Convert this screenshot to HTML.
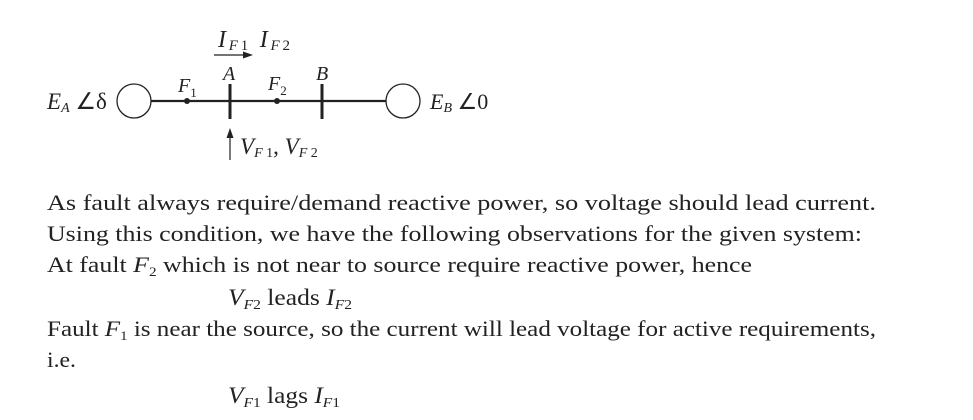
<!DOCTYPE html>
<html><head><meta charset="utf-8"><style>
html,body{margin:0;padding:0;background:#fff;}
svg{display:block;}
text{font-family:"Liberation Serif",serif;fill:#222;}
.i{font-style:italic;}
</style></head><body>
<svg width="973" height="420" viewBox="0 0 973 420" xmlns="http://www.w3.org/2000/svg">
<circle cx="134" cy="101" r="17" fill="none" stroke="#222" stroke-width="1.3"/>
<circle cx="403" cy="101" r="17" fill="none" stroke="#222" stroke-width="1.3"/>
<line x1="151" y1="101" x2="386" y2="101" stroke="#222" stroke-width="2.2"/>
<circle cx="187" cy="101" r="3" fill="#222"/>
<circle cx="277" cy="101" r="3" fill="#222"/>
<line x1="230" y1="84" x2="230" y2="119" stroke="#222" stroke-width="3"/>
<line x1="322" y1="84" x2="322" y2="119" stroke="#222" stroke-width="3"/>
<line x1="214" y1="55" x2="246" y2="55" stroke="#222" stroke-width="1.2"/>
<polygon points="253,55 243,51.5 243,58.5" fill="#222"/>
<line x1="230" y1="160" x2="230" y2="135" stroke="#222" stroke-width="1.2"/>
<polygon points="230,128 226.5,138 233.5,138" fill="#222"/>
<text x="47" y="109" font-size="23" class="i">E<tspan font-size="14" dy="3">A</tspan><tspan dy="-3" font-style="normal"> ∠δ</tspan></text>
<text x="430" y="109" font-size="22" class="i">E<tspan font-size="14" dy="3">B</tspan><tspan dy="-3" font-style="normal"> ∠0</tspan></text>
<text x="178" y="92" font-size="20" class="i">F<tspan font-size="13" dy="5" font-style="normal">1</tspan></text>
<text x="268" y="90" font-size="20" class="i">F<tspan font-size="13" dy="5" font-style="normal">2</tspan></text>
<text x="223" y="80" font-size="20" class="i">A</text>
<text x="316" y="80" font-size="20" class="i">B</text>
<text x="218" y="47" font-size="24" class="i" textLength="72" lengthAdjust="spacing">I<tspan font-size="15" dy="3">F</tspan><tspan font-size="15" font-style="normal">1</tspan><tspan dy="-3">  I</tspan><tspan font-size="15" dy="3">F</tspan><tspan font-size="15" font-style="normal">2</tspan></text>
<text x="240" y="154" font-size="23" class="i">V<tspan font-size="14" dy="3">F</tspan><tspan font-size="14" font-style="normal"> 1</tspan><tspan dy="-3" font-style="normal">, </tspan>V<tspan font-size="14" dy="3">F</tspan><tspan font-size="14" font-style="normal"> 2</tspan></text>
<text x="47" y="210" font-size="22" textLength="829" lengthAdjust="spacingAndGlyphs">As fault always require/demand reactive power, so voltage should lead current.</text>
<text x="47" y="241" font-size="22" textLength="815" lengthAdjust="spacingAndGlyphs">Using this condition, we have the following observations for the given system:</text>
<text x="47" y="272" font-size="22" textLength="705" lengthAdjust="spacingAndGlyphs">At fault <tspan class="i">F</tspan><tspan font-size="13" dy="4">2</tspan><tspan dy="-4"> which is not near to source require reactive power, hence</tspan></text>
<text x="228" y="305" font-size="23" textLength="124" lengthAdjust="spacingAndGlyphs"><tspan class="i">V</tspan><tspan font-size="14" dy="4" class="i">F</tspan><tspan font-size="14">2</tspan><tspan dy="-4"> leads </tspan><tspan class="i">I</tspan><tspan font-size="14" dy="4" class="i">F</tspan><tspan font-size="14">2</tspan></text>
<text x="47" y="336" font-size="22" textLength="829" lengthAdjust="spacingAndGlyphs">Fault <tspan class="i">F</tspan><tspan font-size="13" dy="4">1</tspan><tspan dy="-4"> is near the source, so the current will lead voltage for active requirements,</tspan></text>
<text x="47" y="367" font-size="22" textLength="29" lengthAdjust="spacingAndGlyphs">i.e.</text>
<text x="228" y="403" font-size="23" textLength="112" lengthAdjust="spacingAndGlyphs"><tspan class="i">V</tspan><tspan font-size="14" dy="4" class="i">F</tspan><tspan font-size="14">1</tspan><tspan dy="-4"> lags </tspan><tspan class="i">I</tspan><tspan font-size="14" dy="4" class="i">F</tspan><tspan font-size="14">1</tspan></text>
</svg>
</body></html>
